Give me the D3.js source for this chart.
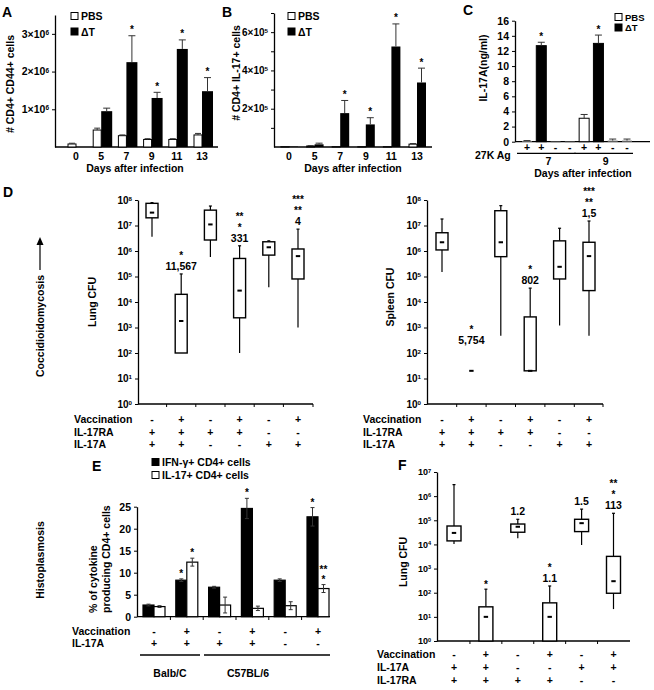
<!DOCTYPE html>
<html><head><meta charset="utf-8">
<script src="https://cdn.jsdelivr.net/npm/d3@7"></script>
<style>
body{margin:0;background:#fff}
svg{font-family:"Liberation Sans",Arial,sans-serif;font-weight:bold}
</style>
</head><body><svg id="c" width="654" height="690"></svg>
<script>
// ---------------- DATA ----------------
const daysAB = ["0","5","7","9","11","13"];
// Panel A (x10^6 cells)
const aPBS    = [0.08,0.45,0.30,0.20,0.20,0.32];
const aPBSerr = [0.02,0.05,0.02,0.02,0.02,0.04];
const aDT     = [0,0.95,2.25,1.3,2.6,1.48];
const aDTerr  = [0,0.08,0.70,0.15,0.24,0.36];
const aStar   = ["","","*","*","*","*"];
const aTicks  = [1,2,3];
// Panel B (x10^5 cells)
const bPBS    = [0.02,0.05,0.02,0.02,0.02,0.15];
const bPBSerr = [0,0.02,0,0,0,0.03];
const bDT     = [0.02,0.14,1.77,1.18,5.25,3.37];
const bDTerr  = [0,0.06,0.66,0.35,1.18,0.75];
const bStar   = ["","","*","*","*","*"];
const bTicks  = [2,4,6];
// Panel C (ng/ml)
const cGroup  = ["PBS","ΔT","PBS","ΔT","PBS","ΔT","PBS","ΔT"];
const cAg     = ["+","+","-","-","+","+","-","-"];
const cVals   = [0.1,12.7,0.02,0.02,3.1,13.0,0.15,0.15];
const cErr    = [0.05,0.45,0,0,0.5,1.1,0.2,0.2];
const cStar   = ["","*","","","","*","",""];
const cDays   = ["7","9"];
const cTicks  = [0,2,4,6,8,10,12,14,16];
// Panel D rows
const rowNamesD = ["Vaccination","IL-17RA","IL-17A"];
const rowsD = [["-","+","-","+","-","+"],["+","+","+","+","-","-"],["+","+","-","-","+","+"]];
// Panel D lung CFU (box: lo, q1, median, q3, hi)
const dLungLo  = [3.6e6,100,5.8e5,100,3.8e4,1e3];
const dLungQ1  = [2e7,100,2.7e6,2.4e3,6.9e5,8e4];
const dLungMed = [3.2e7,1.8e3,1.1e7,2.8e4,1.4e6,6.3e5];
const dLungQ3  = [7.4e7,2e4,4e7,5.1e5,2.3e6,1.2e6];
const dLungHi  = [7.9e7,1.26e5,5.8e7,1.6e6,2.5e6,7.2e6];
const dLungAnn = [[],["*","11,567"],[],["**","*","331"],[],["***","**","4"]];
// Panel D spleen CFU
const dSplLo  = [1.5e5,null,480,20,1.2e3,480];
const dSplQ1  = [1.1e6,null,6e5,20,8e4,2.8e4];
const dSplMed = [2.2e6,20,2.2e6,20,2.4e5,6.3e5];
const dSplQ3  = [5.2e6,null,3.8e7,2.6e3,2.5e6,2.2e6];
const dSplHi  = [1.8e7,null,6e7,3.5e4,7.8e6,1.5e7];
const dSplAnn = [[],["*","5,754"],[],["*","802"],[],["***","**","1,5"]];
const dSplAnnAt = [null,160,null,null,null,null];
const logExpD = [0,1,2,3,4,5,6,7,8];
// Panel E (%)
const eGroups   = ["Balb/C","C57BL/6"];
const eIFN      = [2.65,8.3,6.7,24.6,8.3,22.7];
const eIFNerr   = [0.2,0.3,0.2,2.3,0.3,2.1];
const eIL17     = [2.3,12.4,2.65,1.9,2.5,6.4];
const eIL17err  = [0.2,0.9,1.8,0.5,0.9,0.9];
const eIFNstar  = [[],["*"],[],["*"],[],["*"]];
const eIL17star = [[],["*"],[],[],[],["**","*"]];
const rowNamesE = ["Vaccination","IL-17A"];
const rowsE = [["-","+","-","+","-","+"],["+","+","+","+","-","-"]];
const eTicks = [0,5,10,15,20,25];
// Panel F lung CFU
const fLo  = [1.05e4,1,1.8e4,1,9.5e3,21];
const fQ1  = [1.4e4,1,3.2e4,1,3.4e4,95];
const fMed = [3e4,10,5.4e4,10,7.6e4,300];
const fQ3  = [5.8e4,26,7e4,38,1.1e5,3.2e3];
const fHi  = [3e6,140,1.1e5,190,2.9e5,1.95e5];
const fAnn = [[],["*"],["1.2"],["*","1.1"],["1.5"],["**","*","113"]];
const rowNamesF = ["Vaccination","IL-17A","IL-17RA"];
const rowsF = [["-","+","-","+","-","+"],["+","+","-","-","+","+"],["+","+","+","+","-","-"]];
const logExpF = [0,1,2,3,4,5,6,7];

// ---------------- HELPERS ----------------
const svg = d3.select("#c");
function T(g,x,y,s,size,anchor){
  return g.append("text").attr("x",x).attr("y",y).text(s)
    .attr("font-size",size||10.5).attr("text-anchor",anchor||"middle")
    .attr("dominant-baseline","central");
}
function rotT(g,x,y,s,size,anchor){
  return g.append("text").attr("transform",`translate(${x},${y}) rotate(-90)`).text(s)
    .attr("font-size",size||10.5).attr("text-anchor",anchor||"middle")
    .attr("dominant-baseline","central");
}
function sup(t,base,exp){
  t.text(null);
  t.append("tspan").text(base);
  t.append("tspan").attr("dy","-0.45em").attr("font-size","0.62em").text(exp);
}
function yAxis(g,x0,scale,vals,size,fmt){
  const ax = g.append("g").attr("transform",`translate(${x0},0)`)
    .call(d3.axisLeft(scale).tickValues(vals).tickSize(3).tickSizeOuter(0).tickPadding(3));
  ax.attr("font-family",null).attr("font-size",size);
  ax.select(".domain").attr("stroke-width",1.3);
  ax.selectAll(".tick line").attr("stroke-width",1);
  if(fmt) ax.selectAll(".tick text").each(function(d){fmt(d3.select(this),d);});
  return ax;
}
function xLine(g,x0,x1,y){
  g.append("line").attr("x1",x0).attr("x2",x1).attr("y1",y).attr("y2",y)
   .attr("stroke","#000").attr("stroke-width",1.3);
}
function errUp(g,cx,yTop,yErr,cap){
  g.append("line").attr("x1",cx).attr("x2",cx).attr("y1",yTop).attr("y2",yErr).attr("stroke","#333").attr("stroke-width",1);
  g.append("line").attr("x1",cx-cap/2).attr("x2",cx+cap/2).attr("y1",yErr).attr("y2",yErr).attr("stroke","#333").attr("stroke-width",1);
}
function legend(g,x,y,dy,size){
  [["PBS","#fff"],["ΔT","#000"]].forEach((d,i)=>{
    g.append("rect").attr("x",x).attr("y",y+i*dy-3.5).attr("width",7).attr("height",7)
      .attr("fill",d[1]).attr("stroke","#000").attr("stroke-width",1);
    T(g,x+10,y+i*dy,d[0],size,"start");
  });
}
function rows(g,xLabel,ys,names,vals,xs){
  names.forEach((n,r)=>{
    T(g,xLabel,ys[r],n,10.5,"start");
    vals[r].forEach((v,i)=>T(g,xs(i),ys[r],v,10.5));
  });
}
function boxes(g,x,y,lo,q1,med,q3,hi,bw){
  med.forEach((m,i)=>{
    const cx=x(i);
    if(hi[i]!=null && q3[i]!=null){
      g.append("line").attr("x1",cx).attr("x2",cx).attr("y1",y(q3[i])).attr("y2",y(hi[i])).attr("stroke","#000").attr("stroke-width",1.2);
      g.append("line").attr("x1",cx-1.5).attr("x2",cx+1.5).attr("y1",y(hi[i])).attr("y2",y(hi[i])).attr("stroke","#000").attr("stroke-width",1.2);
    }
    if(lo[i]!=null && q1[i]!=null){
      g.append("line").attr("x1",cx).attr("x2",cx).attr("y1",y(q1[i])).attr("y2",y(lo[i])).attr("stroke","#000").attr("stroke-width",1.2);
    }
    if(q1[i]!=null && q3[i]!=null){
      g.append("rect").attr("x",cx-bw/2).attr("y",y(q3[i])).attr("width",bw).attr("height",Math.max(0.5,y(q1[i])-y(q3[i])))
        .attr("fill","#fff").attr("stroke","#000").attr("stroke-width",1.4);
    }
    g.append("rect").attr("x",cx-2.2).attr("y",y(m)-1).attr("width",4.4).attr("height",2).attr("fill","#000");
  });
}
function annot(g,x,y,anns,anchorVals){
  anns.forEach((lines,i)=>{
    if(!lines.length) return;
    let base=y(anchorVals[i])-4;
    for(let k=lines.length-1;k>=0;k--){
      const s=lines[k];
      const isStar=/^\*+$/.test(s);
      g.append("text").attr("x",x(i)).attr("y",isStar?base+3:base).text(s)
        .attr("font-size",isStar?10:10.5).attr("text-anchor","middle");
      base -= (k===lines.length-1 && !isStar)?14:11;
    }
  });
}
function panelLetter(x,y,s){ T(svg,x,y,s,14,"start"); }

// ---------------- PANEL A ----------------
{
  const g=svg.append("g");
  const y=d3.scaleLinear().domain([0,3.5]).range([147,15]);
  const x=d3.scalePoint().domain(daysAB).range([76,202]);
  yAxis(g,55,y,aTicks,10.5,(t,d)=>sup(t,d+"×10","6"));
  xLine(g,55,218,y(0));
  daysAB.forEach((d,i)=>{
    const c=x(d);
    if(aPBS[i]>0){
      g.append("rect").attr("x",c-8).attr("y",y(aPBS[i])).attr("width",8).attr("height",y(0)-y(aPBS[i])).attr("fill","#fff").attr("stroke","#000");
      if(aPBSerr[i]>0) errUp(g,c-4,y(aPBS[i]),y(aPBS[i]+aPBSerr[i]),6);
    }
    if(aDT[i]>0){
      g.append("rect").attr("x",c).attr("y",y(aDT[i])).attr("width",11).attr("height",y(0)-y(aDT[i])).attr("fill","#000");
      errUp(g,c+5.5,y(aDT[i]),y(aDT[i]+aDTerr[i]),7);
    }
    if(aStar[i]) T(g,c+5.5,y(aDT[i]+aDTerr[i])-6,aStar[i],10);
    T(g,c,156,d,10.5);
  });
  T(g,135,168,"Days after infection",10.5);
  rotT(g,10,84,"# CD4+ CD44+ cells",10.5);
  legend(g,71,16,15.5,10.5);
  panelLetter(2,12,"A");
}
// ---------------- PANEL B ----------------
{
  const g=svg.append("g");
  const y=d3.scaleLinear().domain([0,7]).range([147,13]);
  const x=d3.scalePoint().domain(daysAB).range([289,417]);
  yAxis(g,274,y,[1,2,3,4,5,6,7],10,(t,d)=>{ if(d%2) t.text(""); else sup(t,d+"×10","5"); });
  xLine(g,274,432,y(0));
  daysAB.forEach((d,i)=>{
    const c=x(d);
    g.append("rect").attr("x",c-8).attr("y",y(bPBS[i])).attr("width",8).attr("height",y(0)-y(bPBS[i])).attr("fill","#fff").attr("stroke","#000");
    if(bPBSerr[i]>0) errUp(g,c-4,y(bPBS[i]),y(bPBS[i]+bPBSerr[i]),6);
    g.append("rect").attr("x",c).attr("y",y(bDT[i])).attr("width",9).attr("height",y(0)-y(bDT[i])).attr("fill","#000");
    if(bDTerr[i]>0) errUp(g,c+4.5,y(bDT[i]),y(bDT[i]+bDTerr[i]),7);
    if(bStar[i]) T(g,c+4.5,y(bDT[i]+bDTerr[i])-6,bStar[i],10);
    T(g,c,156,d,10.5);
  });
  T(g,353,168,"Days after infection",10.5);
  rotT(g,236,73,"# CD4+ IL-17+ cells",10.5);
  legend(g,288,16,15.5,10.5);
  panelLetter(222,12,"B");
}
// ---------------- PANEL C ----------------
{
  const g=svg.append("g");
  const y=d3.scaleLinear().domain([0,16]).range([141.7,20.7]);
  const x=d3.scalePoint().domain(d3.range(cVals.length)).range([527,627]);
  yAxis(g,515,y,cTicks,10.5,null);
  xLine(g,515,650,y(0));
  cVals.forEach((v,i)=>{
    const c=x(i), black=cGroup[i]==="ΔT" && v>1;
    g.append("rect").attr("x",c-5).attr("y",y(v)).attr("width",10).attr("height",Math.max(0.8,y(0)-y(v)))
      .attr("fill",black?"#000":(v>1?"#fff":"#888")).attr("stroke",v>1?"#000":"none");
    if(cErr[i]>0) errUp(g,c,y(v),y(v+cErr[i]),7);
    if(cStar[i]) T(g,c,y(v+cErr[i])-6,cStar[i],10);
    T(g,c,147,cAg[i],10.5);
  });
  T(g,475,155,"27K Ag",10.5,"start");
  cDays.forEach((d,k)=>{
    const x0=x(k*4)-10, x1=x(k*4+3)+6;
    g.append("line").attr("x1",x0).attr("x2",x1).attr("y1",153.3).attr("y2",153.3).attr("stroke","#000").attr("stroke-width",1.3);
    T(g,(x(k*4+1)+x(k*4+2))/2,161,d,10.5);
  });
  T(g,583,173,"Days after infection",10.5);
  rotT(g,483,68,"IL-17A(ng/ml)",10.5);
  legend(g,615,17,10.5,9.5);
  panelLetter(463,10,"C");
}
// ---------------- PANEL D ----------------
{
  const g=svg.append("g");
  panelLetter(3,192,"D");
  const fmt=(t,d)=>sup(t,"10",Math.round(Math.log10(d)));
  // left
  const y=d3.scaleLog().domain([1,1e8]).range([404,200]);
  const x=d3.scalePoint().domain(d3.range(6)).range([152,298]);
  yAxis(g,138,y,logExpD.map(k=>10**k),10,fmt);
  xLine(g,138,313,404);
  d3.range(6).forEach(i=>{ const tx=i<5?(x(i)+x(i+1))/2:313;
    g.append("line").attr("x1",tx).attr("x2",tx).attr("y1",404).attr("y2",407).attr("stroke","#000"); });
  boxes(g,x,y,dLungLo,dLungQ1,dLungMed,dLungQ3,dLungHi,12);
  annot(g,x,y,dLungAnn,dLungHi);
  rotT(g,92,302,"Lung CFU",10.5);
  rows(g,74,[419,432,444],rowNamesD,rowsD,x);
  rotT(g,40,326,"Coccidioidomycosis",10.5);
  g.append("line").attr("x1",40).attr("x2",40).attr("y1",270).attr("y2",243).attr("stroke","#000").attr("stroke-width",1.2);
  g.append("path").attr("d","M36.5,245 L40,237 L43.5,245 Z").attr("fill","#000");
  // right
  const y2=d3.scaleLog().domain([1,1e8]).range([404,200]);
  const x2=d3.scalePoint().domain(d3.range(6)).range([442,589]);
  yAxis(g,427,y2,logExpD.map(k=>10**k),10,fmt);
  xLine(g,427,603,404);
  d3.range(6).forEach(i=>{ const tx=i<5?(x2(i)+x2(i+1))/2:603;
    g.append("line").attr("x1",tx).attr("x2",tx).attr("y1",404).attr("y2",407).attr("stroke","#000"); });
  boxes(g,x2,y2,dSplLo,dSplQ1,dSplMed,dSplQ3,dSplHi,12);
  annot(g,x2,y2,dSplAnn,dSplHi.map((h,i)=>dSplAnnAt[i]!=null?dSplAnnAt[i]:h));
  rotT(g,390,297,"Spleen CFU",10.5);
  rows(g,363,[419,432,444],rowNamesD,rowsD,x2);
}
// ---------------- PANEL E ----------------
{
  const g=svg.append("g");
  T(g,92,466,"E",14,"start");
  const y=d3.scaleLinear().domain([0,25]).range([616.7,506.7]);
  const x=d3.scalePoint().domain(d3.range(6)).range([154,318]);
  yAxis(g,137,y,eTicks,10.5,null);
  xLine(g,137,330,616.7);
  d3.range(5).forEach(i=>{ const tx=(x(i)+x(i+1))/2;
    g.append("line").attr("x1",tx).attr("x2",tx).attr("y1",616.7).attr("y2",620).attr("stroke","#000"); });
  const bw=11;
  eIFN.forEach((v,i)=>{
    const c=x(i);
    [[v,eIFNerr[i],c-bw,"#000",eIFNstar[i]],[eIL17[i],eIL17err[i],c,"#fff",eIL17star[i]]].forEach(([val,er,x0,fill,st])=>{
      g.append("rect").attr("x",x0).attr("y",y(val)).attr("width",bw).attr("height",y(0)-y(val)).attr("fill",fill).attr("stroke","#000").attr("stroke-width",1.2);
      const cx=x0+bw/2;
      g.append("line").attr("x1",cx).attr("x2",cx).attr("y1",y(val-er)).attr("y2",y(val+er)).attr("stroke","#333");
      [val-er,val+er].forEach(e=>g.append("line").attr("x1",cx-2).attr("x2",cx+2).attr("y1",y(e)).attr("y2",y(e)).attr("stroke","#333"));
      st.forEach((s,k)=>{
        g.append("text").attr("x",cx).attr("y",y(val+er)-2-(st.length-1-k)*10).text(s).attr("font-size",10).attr("text-anchor","middle");
      });
    });
  });
  // legend
  [["IFN-γ+ CD4+ cells","#000"],["IL-17+ CD4+ cells","#fff"]].forEach((d,i)=>{
    g.append("rect").attr("x",152).attr("y",462+i*13-3.5).attr("width",7).attr("height",7).attr("fill",d[1]).attr("stroke","#000");
    T(g,162,462+i*13,d[0],10.5,"start");
  });
  rotT(g,93,613,"% of cytokine",10.5,"start");
  rotT(g,106,613,"producing CD4+ cells",10.5,"start");
  rotT(g,40,560,"Histoplasmosis",10.5);
  rows(g,72,[631,643],rowNamesE,rowsE,x);
  [[140,200],[204,330]].forEach((r,k)=>{
    g.append("line").attr("x1",r[0]).attr("x2",r[1]).attr("y1",655).attr("y2",655).attr("stroke","#000").attr("stroke-width",1.6);
    T(g,k?248:170,673,eGroups[k],10.5);
  });
}
// ---------------- PANEL F ----------------
{
  const g=svg.append("g");
  panelLetter(398,465,"F");
  const y=d3.scaleLog().domain([1,1e7]).range([641,472]);
  const x=d3.scalePoint().domain(d3.range(6)).range([454,613.5]);
  yAxis(g,437,y,logExpF.map(k=>10**k),9,(t,d)=>sup(t,"10",Math.round(Math.log10(d))));
  xLine(g,437,630,641);
  d3.range(5).forEach(i=>{ const tx=(x(i)+x(i+1))/2;
    g.append("line").attr("x1",tx).attr("x2",tx).attr("y1",641).attr("y2",644).attr("stroke","#000"); });
  boxes(g,x,y,fLo,fQ1,fMed,fQ3,fHi,14);
  annot(g,x,y,fAnn,fHi);
  rotT(g,403,562,"Lung CFU",10.5);
  rows(g,377,[654.3,667.3,680],rowNamesF,rowsF,x);
}
</script>
</body></html>
